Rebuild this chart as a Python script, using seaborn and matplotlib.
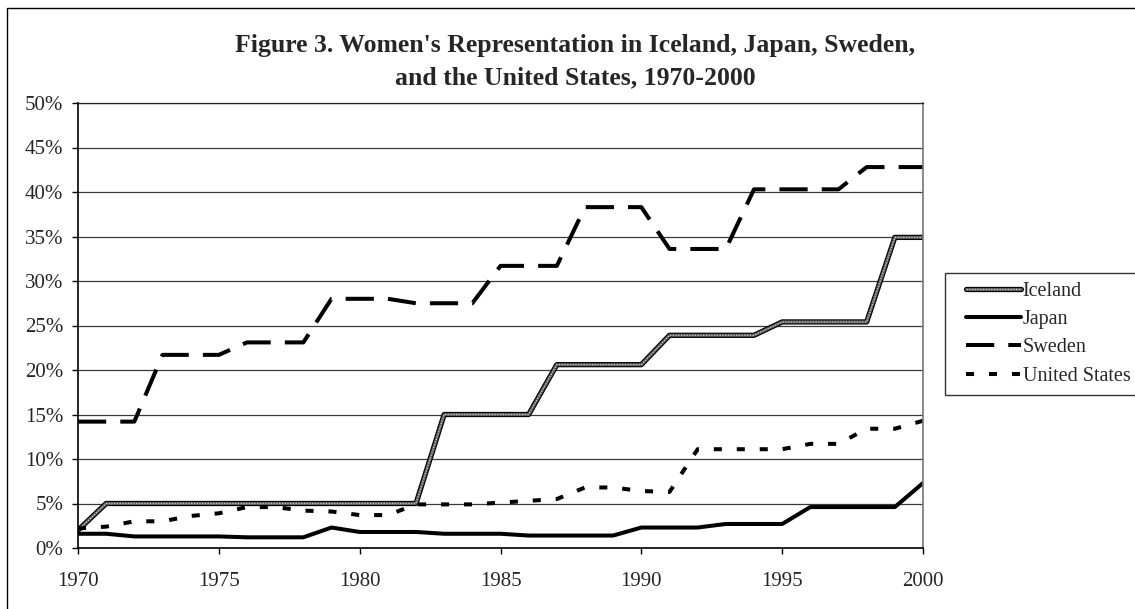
import matplotlib
matplotlib.use("Agg")
import matplotlib.pyplot as plt
import matplotlib.patheffects as pe
from matplotlib.legend_handler import HandlerTuple, HandlerLine2D
from matplotlib.lines import Line2D
from matplotlib.patches import Rectangle
from matplotlib.ticker import PercentFormatter, MultipleLocator
import pandas as pd
import seaborn as sns

# women's share of seats, percent, 1970-2000
years = list(range(1970, 2001))
iceland = [2.0] + [5.0] * 12 + [15.0] * 4 + [20.6] * 4 + [23.9] * 4 + [25.4] * 4 + [34.9] * 2
japan = [1.6, 1.6, 1.3, 1.3, 1.3, 1.3, 1.2, 1.2, 1.2, 2.3,
         1.8, 1.8, 1.8, 1.6, 1.6, 1.6, 1.4, 1.4, 1.4, 1.4,
         2.3, 2.3, 2.3, 2.7, 2.7, 2.7, 4.6, 4.6, 4.6, 4.6,
         7.3]
sweden = [14.2] * 3 + [21.7] * 3 + [23.1] * 3 + [28.0] * 3 + [27.5] * 3 + [31.7] * 3 \
    + [38.3] * 3 + [33.6] * 3 + [40.3] * 4 + [42.8] * 3
united_states = [2.2, 2.4, 3.0, 3.0, 3.6, 3.9, 4.6, 4.6, 4.2, 4.1,
                 3.7, 3.7, 4.9, 4.9, 4.9, 5.1, 5.3, 5.5, 6.8, 6.8,
                 6.4, 6.3, 11.1, 11.1, 11.1, 11.1, 11.7, 11.7, 13.4, 13.4,
                 14.3]

df = pd.DataFrame({"year": years, "Iceland": iceland, "Japan": japan,
                   "Sweden": sweden, "United States": united_states})

sns.set_style("white")
plt.rcParams["font.family"] = ["Liberation Serif", "DejaVu Serif"]

fig = plt.figure(figsize=(11.35, 6.09), dpi=100)
ax = fig.add_axes([78 / 1135, 61 / 609, 845 / 1135, 445 / 609])

# Iceland: dark grey band with a black outline and a light dotted core
sns.lineplot(data=df, x="year", y="Iceland", ax=ax, color="#5a5a5a", linewidth=2.2,
             path_effects=[pe.Stroke(linewidth=3.8, foreground="black"), pe.Normal()])
ice_base = ax.lines[-1]
sns.lineplot(data=df, x="year", y="Iceland", ax=ax, color="#d0d0d0", linewidth=0.9,
             linestyle=(0, (1, 1.2)))
ice_dots = ax.lines[-1]

sns.lineplot(data=df, x="year", y="Japan", ax=ax, color="black", linewidth=2.9)
japan_line = ax.lines[-1]

sns.lineplot(data=df, x="year", y="Sweden", ax=ax, color="black", linewidth=2.9,
             linestyle=(0, (7, 3.5)))
sweden_line = ax.lines[-1]

sns.lineplot(data=df, x="year", y="United States", ax=ax, color="black", linewidth=2.9,
             linestyle=(0, (2, 3.7)))
us_line = ax.lines[-1]

ax.set_xlim(1970, 2000)
ax.set_ylim(0, 50)
ax.xaxis.set_major_locator(MultipleLocator(5))
ax.yaxis.set_major_locator(MultipleLocator(5))
ax.yaxis.set_major_formatter(PercentFormatter(100, decimals=0))
ax.set_xlabel("")
ax.set_ylabel("")
ax.grid(axis="y", color="#3a3a3a", linewidth=0.9)
ax.grid(axis="x", visible=False)
ax.set_axisbelow(True)
for side in ["left", "bottom"]:
    ax.spines[side].set_color("black")
    ax.spines[side].set_linewidth(1.2)
ax.spines["top"].set_color("#222222")
ax.spines["top"].set_linewidth(0.9)
ax.spines["right"].set_color("#777777")
ax.spines["right"].set_linewidth(1.2)
ax.tick_params(axis="both", which="major", direction="out", length=4, width=1,
               color="black", labelsize=15, left=True, bottom=True)
ax.tick_params(axis="x", pad=13)
ax.tick_params(axis="y", pad=6.5)

fig.text(0.507, 1 - 61.5 / 609,
         "Figure 3. Women's Representation in Iceland, Japan, Sweden,\n"
         "and the United States, 1970-2000",
         ha="center", va="center", fontsize=18.5, fontweight="bold", linespacing=1.5)

line_handler = HandlerLine2D(xpad=0.6)
leg = fig.legend([(ice_base, ice_dots), japan_line, sweden_line, us_line],
                 ["Iceland", "Japan", "Sweden", "United States"],
                 handler_map={tuple: HandlerTuple(ndivide=1, pad=0, xpad=0.6),
                              Line2D: line_handler},
                 loc="upper left", bbox_to_anchor=(945 / 1135, 1 - 273 / 609),
                 fontsize=14.5, frameon=True, fancybox=False, shadow=False,
                 handlelength=3.3, handletextpad=0.1, labelspacing=0.45,
                 borderpad=0.45, borderaxespad=0)
leg.get_frame().set_edgecolor("black")
leg.get_frame().set_linewidth(1.0)

# outer chart border (right and bottom edges fall outside the image)
fig.patches.append(Rectangle((7 / 1135, -0.05), 1.2, 1.05 - 8 / 609,
                             transform=fig.transFigure, fill=False,
                             edgecolor="black", linewidth=1.0))

fig.savefig("out.png", dpi=100)
